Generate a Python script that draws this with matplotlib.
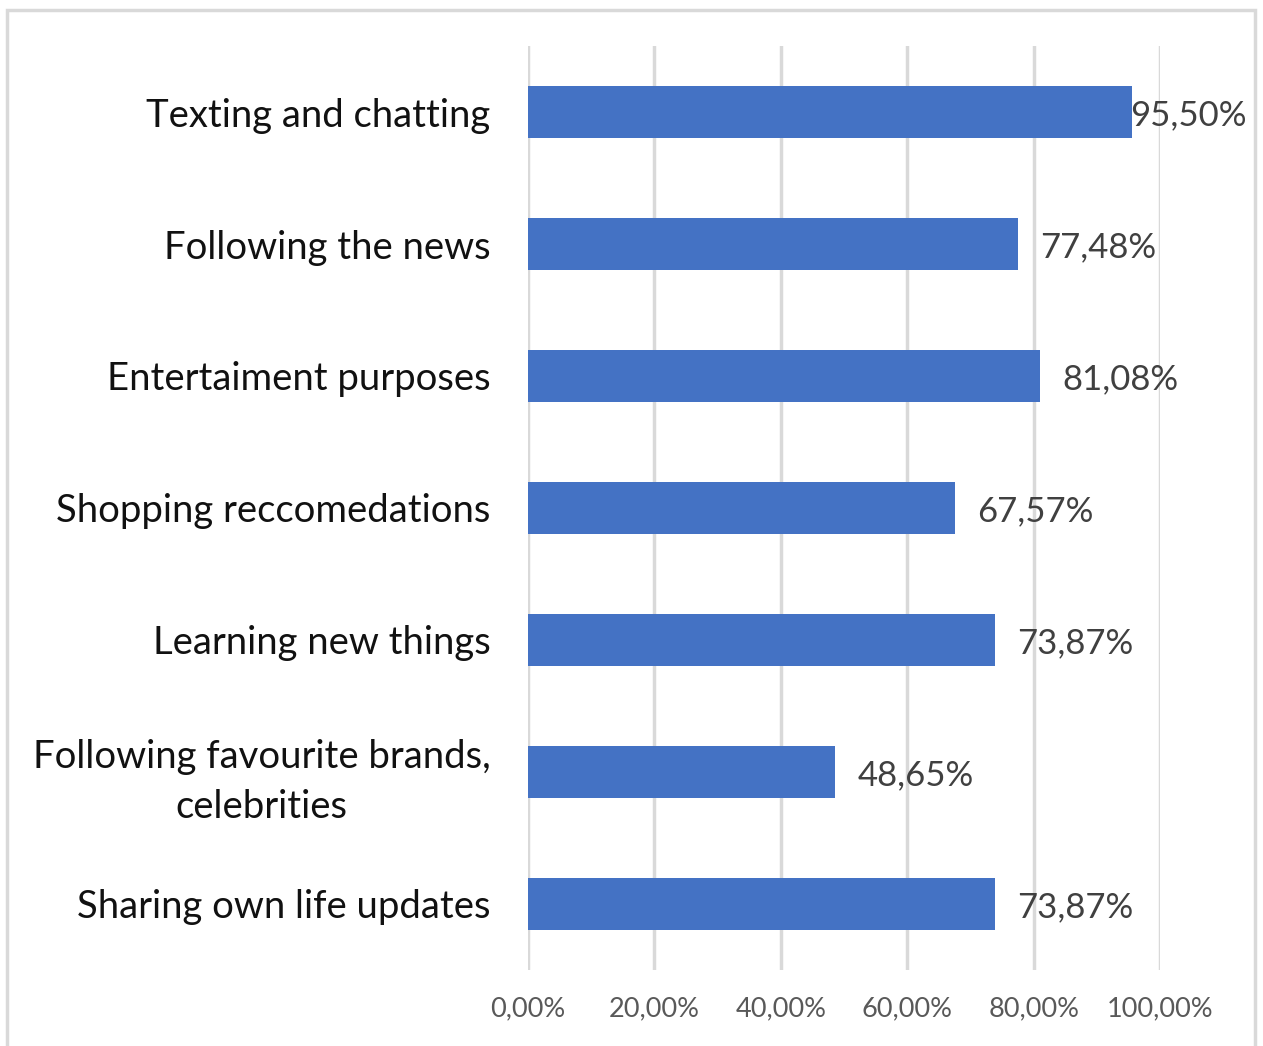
import matplotlib.pyplot as plt
from matplotlib.patches import Rectangle

categories = ['Texting and chatting', 'Following the news', 'Entertaiment purposes',
              'Shopping reccomedations', 'Learning new things',
              'Following favourite brands,\ncelebrities', 'Sharing own life updates']
values = [95.50, 77.48, 81.08, 67.57, 73.87, 48.65, 73.87]
ticks = [0, 20, 40, 60, 80, 100]

plt.rcParams['font.family'] = ['Lato', 'DejaVu Sans']

fig = plt.figure(figsize=(12.63, 10.46), dpi=100)
ax = fig.add_axes([0.418, 0.0727, 0.5005, 0.8833])

pos = list(range(len(categories)))
ax.barh(pos, values, height=0.4, color='#4472C4', zorder=3)
ax.set_ylim(len(categories) - 0.5, -0.5)
ax.set_xlim(0, 100)

for y, v in zip(pos, values):
    x = min(v + 3.5, 95.25)
    ax.text(x, y, ('%.2f%%' % v).replace('.', ','), va='center_baseline', ha='left',
            fontsize=25, color='#404040', zorder=4)

ax.set_yticks(pos)
ax.set_yticklabels(categories, fontsize=27.5, color='#111111')
for lab in ax.get_yticklabels():
    lab.set_multialignment('center')
    lab.set_linespacing(1.45)
ax.set_xticks(ticks)
ax.set_xticklabels(['%d,00%%' % t for t in ticks], fontsize=19.5, color='#595959')
ax.tick_params(axis='y', length=0, pad=27)
ax.tick_params(axis='x', length=0, pad=19)
ax.grid(axis='x', color='#d9d9d9', linewidth=2.5, zorder=0)
for s in ax.spines.values():
    s.set_visible(False)

# light frame around the whole chart area
fig.patches.append(Rectangle((6.5 / 1263, -0.01), 1248 / 1263, 1 - 9.5 / 1046 + 0.01,
                             transform=fig.transFigure, fill=False,
                             edgecolor='#d9d9d9', linewidth=2.5))

plt.savefig('out.png', dpi=100)
